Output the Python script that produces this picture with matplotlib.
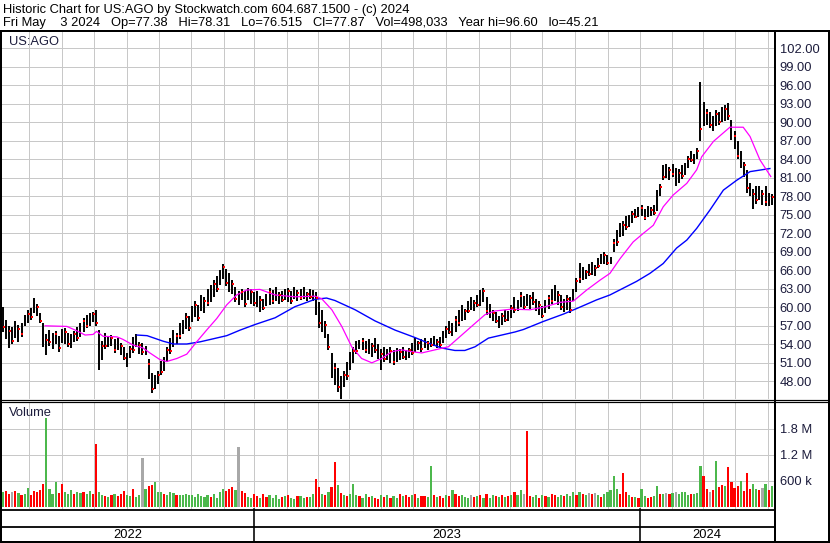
import matplotlib
matplotlib.use("Agg")
import matplotlib.pyplot as plt
from matplotlib.lines import Line2D
from matplotlib.transforms import blended_transform_factory

plt.rcParams['font.family'] = ['Liberation Sans', 'DejaVu Sans']

# ---------------- data (each bar = 2 trading days, May 2022 .. May 3 2024) -------------
hi = [60.1, 58.0, 57.0, 56.8, 57.7, 57.2, 57.4, 58.8, 59.5, 59.9,
      61.5, 60.6, 59.0, 57.4, 55.6, 56.3, 55.8, 56.2, 55.4, 56.4,
      56.6, 55.8, 55.6, 56.2, 56.8, 57.4, 58.3, 58.7, 59.0, 59.3,
      59.6, 56.3, 54.6, 55.8, 55.4, 55.5, 54.8, 55.0, 54.2, 53.6,
      52.6, 53.8, 55.2, 55.7, 54.4, 54.2, 53.7, 51.6, 49.4, 49.0,
      49.6, 51.3, 52.0, 53.6, 55.0, 56.3, 55.8, 57.4, 58.0, 59.0,
      58.6, 60.2, 61.0, 60.4, 62.0, 61.6, 63.0, 63.6, 64.4, 65.0,
      66.0, 67.1, 66.2, 65.6, 64.4, 63.3, 62.6, 63.0, 62.6, 63.2,
      63.0, 62.4, 62.6, 61.8, 61.4, 62.2, 63.2, 62.8, 63.3, 62.4,
      62.6, 63.0, 63.2, 62.6, 63.3, 62.8, 63.0, 63.3, 62.5, 63.0,
      62.8, 62.4, 60.9, 59.5, 57.8, 55.6, 52.6, 51.0, 50.2, 48.8,
      49.6, 51.2, 52.8, 53.6, 54.6, 54.7, 55.0, 54.6, 54.8, 54.2,
      55.0, 54.0, 53.2, 53.6, 53.2, 53.6, 53.0, 53.4, 53.2, 53.6,
      53.0, 53.4, 54.2, 55.0, 54.6, 54.8, 55.0, 54.6, 55.0, 55.4,
      54.8, 55.2, 56.2, 57.0, 57.7, 57.4, 58.6, 59.6, 60.4, 59.8,
      61.0, 61.7, 61.2, 62.0, 62.8, 63.2, 61.6, 60.6, 59.6, 59.2,
      58.6, 59.0, 59.6, 59.4, 60.4, 61.6, 61.2, 62.4, 61.8, 62.2,
      62.0, 62.5, 61.4, 61.0, 60.2, 61.2, 62.0, 63.0, 63.6, 62.6,
      62.0, 61.4, 62.0, 61.6, 63.0, 64.8, 67.2, 66.6, 66.0, 67.0,
      67.4, 66.8, 68.0, 68.6, 69.0, 68.4, 68.2, 71.0, 72.6, 73.7,
      74.0, 74.8, 75.0, 75.6, 76.0, 76.2, 76.6, 76.0, 76.4, 76.2,
      76.6, 79.0, 80.0, 83.0, 83.2, 82.8, 83.3, 82.6, 82.4, 83.0,
      83.4, 84.6, 85.4, 84.8, 85.8, 96.6, 93.3, 92.2, 91.6, 91.0,
      92.0, 91.6, 92.4, 92.8, 93.2, 90.4, 88.6, 86.9, 85.4, 83.6,
      82.3, 80.2, 79.2, 79.6, 79.6, 79.0, 79.6, 78.6, 78.31]

lo = [56.0, 54.8, 53.4, 54.0, 55.0, 54.4, 55.2, 57.0, 57.4, 58.0,
      59.0, 58.6, 57.4, 53.5, 52.3, 53.8, 53.2, 54.0, 52.8, 54.2,
      54.0, 53.6, 53.4, 54.3, 54.5, 55.2, 56.0, 56.6, 56.9, 57.6,
      57.0, 49.8, 51.4, 53.2, 53.6, 53.8, 52.6, 53.0, 52.2, 51.4,
      50.3, 51.8, 52.6, 53.6, 52.4, 52.3, 52.3, 48.4, 46.05, 46.8,
      47.5, 49.0, 49.6, 51.2, 52.4, 53.6, 54.0, 54.8, 55.6, 56.5,
      56.2, 57.6, 58.4, 57.8, 59.4, 59.0, 60.2, 60.8, 61.6, 62.4,
      63.6, 64.6, 63.4, 62.4, 62.2, 60.8, 60.4, 61.2, 60.1, 61.2,
      60.6, 60.2, 60.0, 59.3, 59.6, 60.2, 60.4, 60.6, 61.0, 60.6,
      60.8, 61.2, 60.9, 60.6, 61.4, 61.0, 61.2, 61.4, 61.0, 61.4,
      61.0, 58.8, 56.6, 56.0, 55.0, 53.0, 48.6, 47.4, 46.2, 45.21,
      47.0, 48.2, 49.8, 51.0, 52.4, 53.2, 53.0, 52.6, 52.4, 52.0,
      52.6, 51.6, 49.8, 51.2, 51.4, 51.0, 50.6, 51.2, 51.4, 51.6,
      51.4, 51.8, 52.2, 52.8, 53.0, 52.8, 53.4, 53.0, 53.6, 53.8,
      53.4, 53.6, 54.2, 55.0, 55.6, 55.4, 56.0, 57.0, 57.8, 58.0,
      59.0, 59.6, 59.4, 60.0, 60.2, 60.8, 58.8, 58.2, 57.8, 57.4,
      56.6, 57.2, 57.6, 57.8, 58.2, 59.0, 59.4, 60.0, 59.6, 60.2,
      59.8, 60.4, 59.4, 58.8, 58.2, 59.0, 59.8, 60.6, 61.0, 60.4,
      59.6, 59.2, 59.6, 59.0, 61.0, 62.4, 64.0, 64.4, 64.6, 65.0,
      65.2, 65.0, 66.4, 67.0, 67.1, 66.8, 67.0, 69.0, 70.0, 71.4,
      71.6, 72.6, 73.0, 73.6, 74.4, 74.6, 74.8, 74.2, 74.6, 74.8,
      75.0, 75.6, 78.0, 80.6, 81.0, 80.6, 81.2, 79.6, 80.2, 80.8,
      81.4, 82.6, 83.6, 83.2, 84.0, 86.9, 89.4, 89.6, 89.0, 88.6,
      89.4, 89.6, 90.0, 90.2, 90.4, 87.2, 85.6, 84.0, 82.6, 81.2,
      78.6, 78.0, 76.0, 76.8, 77.4, 76.6, 76.4, 76.4, 76.515]

vol_k = [330, 360, 300, 340, 370, 310, 280, 300, 430, 280,
         360, 330, 390, 520, 2050, 400, 300, 560, 320, 520,
         340, 300, 380, 290, 330, 310, 350, 290, 370, 300,
         1450, 330, 280, 250, 220, 260, 300, 240, 290, 360,
         270, 250, 400, 230, 280, 1120, 420, 480, 500, 560,
         340, 330, 300, 280, 340, 320, 260, 270, 280, 300,
         260, 280, 230, 300, 250, 220, 260, 230, 300, 200,
         330, 400, 370, 420, 460, 380, 1380, 360, 310, 230,
         210, 290, 250, 200, 300, 230, 260, 190, 280, 170,
         220, 250, 260, 200, 180, 240, 250, 200, 220, 230,
         300, 640, 460, 300, 270, 330, 460, 1030, 500, 320,
         280, 250, 300, 520, 260, 240, 200, 300, 220, 240,
         200, 180, 270, 230, 260, 210, 250, 200, 290, 240,
         270, 230, 260, 290, 200, 250, 240, 220, 940, 280,
         230, 250, 200, 270, 240, 390, 300, 250, 280, 220,
         210, 270, 230, 240, 260, 210, 290, 200, 260, 240,
         230, 270, 220, 240, 280, 330, 260, 390, 300, 1750,
         250, 230, 260, 200, 280, 240, 220, 300, 260, 220,
         270, 240, 300, 240, 330, 280, 330, 300, 260, 310,
         290, 320, 270, 230, 300, 340, 390, 710, 400, 300,
         770, 330, 260, 220, 230, 200, 420, 250, 210, 230,
         250, 480, 300, 300, 310, 290, 320, 330, 300, 340,
         330, 280, 300, 290, 320, 940, 720, 400, 330, 380,
         1050, 450, 500, 480, 920, 570, 440, 470, 600, 360,
         780, 420, 520, 400, 380, 430, 520, 380, 485]

vol_dir = ("grryrgrggr" "rrrrggggrr" "gggrggrggr" "rggrgrgrrr" "ggrggygrrg"
           "ggrgggrggg" "gggggggrgg" "ggrrrgyrrg" "grrgrrgggg" "rgrggrggrg"
           "grrgrgrrgr" "grgggrggrg" "rrgrgrggrg" "rrgrgrrggr" "grrgrgrrgg"
           "gyrgrgrggr" "grgrgrggyr" "rggrgrgrrg" "grgggrgrgy" "rygrgggggr"
           "rrgrgrggrr" "ggrgyrgygg" "ggrgggrryr" "grrgrrrrgr" "rrggrygrg")

ma_fast_idx = [13.6, 20.6, 23.8, 26.5, 29.1, 30.2, 32.3, 36.8, 38.7, 41.9,
               45.2, 47.4, 50.7, 52.8, 56.1, 59.3, 62.5, 65.7, 69.0, 72.2,
               75.4, 78.6, 82.9, 87.8, 94.2, 100.7, 102.8, 106.1, 109.3, 112.5,
               115.7, 119.0, 122.2, 125.4, 128.6, 131.9, 135.1, 139.4, 143.7, 148.0,
               152.3, 155.5, 158.7, 164.1, 170.0, 174.3, 179.7, 184.0, 188.3, 192.6,
               195.8, 199.1, 203.3, 206.6, 209.8, 213.0, 216.2, 220.6, 223.8, 225.4,
               229.2, 234.5, 238.8, 241.0, 244.2, 247.7]
ma_fast = [57.0, 56.9, 56.2, 55.5, 55.6, 56.1, 55.3, 55.2, 54.8, 53.9,
           53.4, 52.6, 51.5, 51.2, 51.7, 52.4, 54.4, 56.3, 58.2, 60.4,
           62.0, 62.8, 62.9, 62.0, 61.7, 61.8, 61.4, 59.6, 56.9, 53.6,
           51.7, 51.0, 51.7, 52.8, 53.1, 52.8, 52.6, 53.1, 53.6, 55.5,
           57.4, 58.8, 59.4, 59.7, 59.6, 60.0, 60.8, 61.0, 62.8, 64.4,
           65.5, 67.9, 70.6, 72.0, 73.3, 76.3, 78.2, 80.1, 82.3, 84.4,
           86.9, 89.2, 89.2, 87.7, 83.9, 81.2]

ma_slow_idx = [43.3, 46.5, 51.7, 55.0, 59.3, 63.6, 67.9, 72.2, 76.5, 81.3,
               87.8, 94.2, 100.7, 104.4, 107.1, 113.6, 120.0, 126.5, 132.9, 137.2,
               141.5, 145.8, 149.0, 152.3, 156.6, 160.9, 165.2, 167.9, 174.3, 180.8,
               185.1, 191.5, 195.8, 200.1, 204.4, 208.7, 213.0, 217.3, 220.6, 223.8,
               228.1, 232.4, 236.7, 241.0, 247.4]
ma_slow = [55.5, 55.4, 54.5, 54.05, 54.05, 54.4, 54.9, 55.4, 56.3, 57.2,
           58.3, 60.1, 61.3, 61.5, 61.1, 59.6, 57.8, 56.3, 55.1, 54.2,
           53.4, 53.0, 53.0, 53.6, 55.0, 55.5, 56.0, 56.4, 57.7, 58.9,
           59.8, 61.2, 62.0, 63.1, 64.2, 65.5, 67.1, 69.6, 70.9, 72.8,
           75.8, 79.0, 80.6, 82.0, 82.5]

month_start_idx = [8.57, 19.05, 29.38, 40.02, 50.25, 60.67, 71.22, 80.99,
                   91.73, 101.54, 111.64, 121.8, 132.44, 142.93, 153.67, 163.57,
                   173.8, 184.54, 195.28, 205.35, 215.73, 225.93, 236.15, 246.89]
year_labels = ["2022", "2023", "2024"]
year_bounds = [81.0, 205.4]

price_ticks = [48, 51, 54, 57, 60, 63, 66, 69, 72, 75, 78, 81, 84, 87, 90, 93, 96, 99, 102]
vol_ticks = [600, 1200, 1800]
vol_tick_labels = ["600 k", "1.2 M", "1.8 M"]

header1 = "Historic Chart for US:AGO by Stockwatch.com 604.687.1500 - (c) 2024"
header2 = ("Fri May    3 2024   Op=77.38   Hi=78.31   Lo=76.515   Cl=77.87   "
           "Vol=498,033   Year hi=96.60   lo=45.21")

# ---------------- figure -------------
W, H = 830, 543
fig = plt.figure(figsize=(W / 100, H / 100), dpi=100)
fig.patch.set_facecolor("white")


def px_axes(x0, y0, x1, y1):
    return fig.add_axes([x0 / W, 1 - y1 / H, (x1 - x0) / W, (y1 - y0) / H])


def hline(y, x0, x1, lw=1.0, color="black"):
    fig.add_artist(Line2D([x0 / W, x1 / W], [1 - y / H, 1 - y / H],
                          transform=fig.transFigure, color=color, lw=lw * 0.72,
                          solid_capstyle="butt"))


def vline(x, y0, y1, lw=1.0, color="black"):
    fig.add_artist(Line2D([x / W, x / W], [1 - y0 / H, 1 - y1 / H],
                          transform=fig.transFigure, color=color, lw=lw * 0.72,
                          solid_capstyle="butt"))


XMIN, XMAX = -0.3, -0.3 + 772 / 3.1
GRID = "#c8c8c8"
TXT = "#1c1c3c"
n = len(hi)
idx = list(range(n))

# price panel
ax1 = px_axes(2, 32, 774, 399)
ax1.set_xlim(XMIN, XMAX)
ax1.set_ylim(45.13, 104.64)
ax1.set_yticks(price_ticks)
ax1.set_yticklabels([f"{p:.2f}" for p in price_ticks])
ax1.set_xticks(month_start_idx)
ax1.grid(True, color=GRID, lw=1.0 * 0.72)
ax1.set_axisbelow(True)
ax1.tick_params(axis="x", length=0, labelbottom=False)
ax1.tick_params(axis="y", length=0, left=False, labelleft=False, right=False,
                labelright=True, pad=4.0, labelsize=9.3, labelcolor=TXT)
for s in ax1.spines.values():
    s.set_visible(False)

ax1.vlines(idx, lo, hi, color="black", lw=1.4)
red_x = [i for i in idx if i % 3 == 0]
red_y = [lo[i] + 0.2 * (hi[i] - lo[i]) for i in red_x]
red_x2 = [i for i in idx if i % 3 == 2]
red_y2 = [hi[i] - 0.25 * (hi[i] - lo[i]) for i in red_x2]
ax1.plot([x + 0.25 for x in red_x + red_x2], red_y + red_y2, "s", color="red",
         ms=1.8, mew=0, zorder=3)
ax1.plot(ma_slow_idx, ma_slow, color="#0000ff", lw=1.0)
ax1.plot(ma_fast_idx, ma_fast, color="#ff00ff", lw=0.9)
ax1.text(7 / 772, 1 - 10 / 367, "US:AGO", transform=ax1.transAxes, fontsize=9.3,
         color=TXT, va="center", ha="left")

# volume panel
ax2 = px_axes(2, 402, 774, 509)
ax2.set_xlim(XMIN, XMAX)
ax2.set_ylim(-53, 2416)
ax2.set_yticks(vol_ticks)
ax2.set_yticklabels(vol_tick_labels)
ax2.set_xticks(month_start_idx)
ax2.grid(True, color=GRID, lw=0.72)
ax2.set_axisbelow(True)
ax2.tick_params(axis="x", length=0, labelbottom=False)
ax2.tick_params(axis="y", length=0, left=False, labelleft=False, right=False,
                labelright=True, pad=4.0, labelsize=9.3, labelcolor=TXT)
for s in ax2.spines.values():
    s.set_visible(False)
cmap = {"g": "#4cb84c", "r": "#ff0000", "y": "#a8a8a8"}
ax2.bar(idx, vol_k, width=0.72, color=[cmap[c] for c in vol_dir], bottom=0, zorder=2)
ax2.text(7 / 772, 1 - 11 / 107, "Volume", transform=ax2.transAxes, fontsize=9.3,
         color=TXT, va="center", ha="left")

# header
fig.text(3 / W, 1 - 9.5 / H, header1, fontsize=9.3, va="center", ha="left", color="black")
fig.text(3 / W, 1 - 23 / H, header2, fontsize=9.3, va="center", ha="left", color="black")

# frame lines
hline(30.5, 0, 830, lw=2)
hline(541.5, 0, 830, lw=2)
vline(1, 30, 542, lw=2)
vline(828.5, 30, 542, lw=2)
vline(774.5, 30, 542, lw=2)
hline(399.5, 0, 829, lw=1.2)
hline(402.0, 0, 829, lw=1.2)
hline(509.5, 0, 774, lw=1.8)
hline(527.0, 0, 774, lw=1.8)

# year separators and labels (x in data coords)
btrans = blended_transform_factory(ax1.transData, fig.transFigure)
for b in year_bounds:
    fig.add_artist(Line2D([b, b], [1 - 509 / H, 1 - 542 / H], transform=btrans,
                          color="black", lw=1.6 * 0.72))
edges = [XMIN] + year_bounds + [XMAX]
for k, lab in enumerate(year_labels):
    c = (edges[k] + edges[k + 1]) / 2
    fig.text(c, 1 - 535 / H, lab, transform=btrans, fontsize=9.3, ha="center",
             va="center", color="black")

fig.savefig("out.png", dpi=100, facecolor="white")
